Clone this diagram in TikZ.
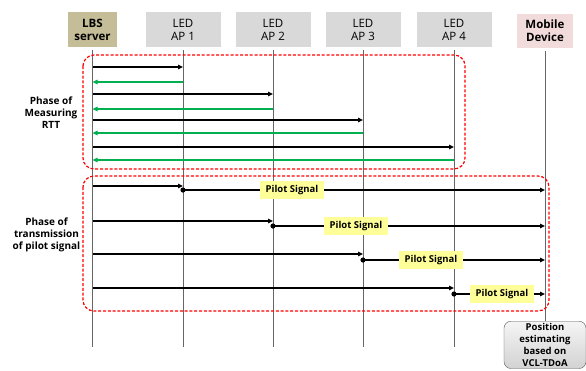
\documentclass[tikz,border=0pt]{standalone}
\usepackage{fontspec}
\setmainfont{Open Sans}
\usetikzlibrary{arrows.meta}
\definecolor{lbsfill}{HTML}{C4BD97}
\definecolor{apfill}{HTML}{D9D9D9}
\definecolor{mobfill}{HTML}{F2DCDB}
\definecolor{pilotfill}{HTML}{FFFF99}
\definecolor{rttgreen}{RGB}{0,176,80}
\definecolor{phasered}{RGB}{255,0,0}
\begin{document}
\begin{tikzpicture}[x=1pt,y=-1pt,
  hdr/.style={inner sep=0pt, minimum height=35pt, align=center, font=\fontsize{11.5}{13}\selectfont},
  life/.style={draw=gray!80!black, line width=0.7pt},
  msg/.style={draw=black, line width=1.3pt, -{Triangle[length=5pt,width=4.5pt]}},
  ack/.style={draw=rttgreen, line width=1.3pt, -{Triangle[length=5pt,width=4.5pt]}},
  phase/.style={draw=phasered, line width=1.2pt, dash pattern=on 3pt off 1.8pt, rounded corners=11pt},
  phaselabel/.style={align=center, font=\bfseries\fontsize{10}{12}\selectfont},
  pilot/.style={fill=pilotfill, inner xsep=6pt, minimum height=18pt, font=\bfseries\fontsize{9.5}{10}\selectfont},
  dotend/.style={fill=black},
  posbox/.style={draw=gray!70!black, rounded corners=7pt, top color=gray!8, bottom color=gray!35, minimum width=82pt, align=center, inner sep=2pt, font=\bfseries\fontsize{9.5}{12}\selectfont}
]
\useasboundingbox (0,0) rectangle (586,370);
\clip (0,0) rectangle (586,370);

% headers
\node[hdr, fill=lbsfill, minimum width=49pt, font=\bfseries\fontsize{11.5}{13}\selectfont] (lbs) at (92.5,29.5) {LBS\\server};
\node[hdr, fill=apfill, minimum width=75pt] (ap1) at (183,29.5) {LED\\AP 1};
\node[hdr, fill=apfill, minimum width=75pt] (ap2) at (273,29.5) {LED\\AP 2};
\node[hdr, fill=apfill, minimum width=75pt] (ap3) at (363,29.5) {LED\\AP 3};
\node[hdr, fill=apfill, minimum width=75pt] (ap4) at (454,29.5) {LED\\AP 4};
\node[hdr, fill=mobfill, minimum width=56pt, minimum height=34pt, font=\bfseries\fontsize{11.5}{13}\selectfont] (mob) at (545,31) {Mobile\\Device};

% position box
\node[posbox, anchor=north] (pos) at (545,321) {Position\\estimating\\based on\\VCL-TDoA};

% lifelines
\coordinate (lbsE) at (92.5,347);
\coordinate (ap1E) at (183,347);
\coordinate (ap2E) at (273,347);
\coordinate (ap3E) at (363,347);
\coordinate (ap4E) at (454,347);
\draw[life] ([yshift=-3pt]lbs.south) -- (lbsE);
\draw[life] ([yshift=-3pt]ap1.south) -- (ap1E);
\draw[life] ([yshift=-3pt]ap2.south) -- (ap2E);
\draw[life] ([yshift=-3pt]ap3.south) -- (ap3E);
\draw[life] ([yshift=-3pt]ap4.south) -- (ap4E);
\draw[life] ([yshift=-3pt]mob.south) -- (pos.north);

% phase boxes
\draw[phase] (83,55) rectangle (465,169);
\draw[phase] (83,176) rectangle (549,311);
\node[phaselabel] (ph1) at (51,113) {Phase of\\Measuring\\RTT};
\node[phaselabel] (ph2) at (46.5,235) {Phase of\\transmission\\of pilot signal};

% RTT measurement
\draw[msg] (lbs |- 0,67) -- (ap1 |- 0,67);
\draw[ack] (ap1 |- 0,82) -- (lbs |- 0,82);
\draw[msg] (lbs |- 0,94) -- (ap2 |- 0,94);
\draw[ack] (ap2 |- 0,109) -- (lbs |- 0,109);
\draw[msg] (lbs |- 0,120) -- (ap3 |- 0,120);
\draw[ack] (ap3 |- 0,133) -- (lbs |- 0,133);
\draw[msg] (lbs |- 0,147) -- (ap4 |- 0,147);
\draw[ack] (ap4 |- 0,160) -- (lbs |- 0,160);

% pilot signal transmission
\draw[msg] (lbs |- 0,186) -- (ap1 |- 0,186);
\draw[msg] (ap1 |- 0,190) -- (mob |- 0,190);
\fill[dotend] (ap1 |- 0,190) circle (2.6pt);
\node[pilot] (p1) at (292,190) {Pilot Signal};

\draw[msg] (lbs |- 0,221) -- (ap2 |- 0,221);
\draw[msg] (ap2 |- 0,226) -- (mob |- 0,226);
\fill[dotend] (ap2 |- 0,226) circle (2.6pt);
\node[pilot] (p2) at (356,226) {Pilot Signal};

\draw[msg] (lbs |- 0,254) -- (ap3 |- 0,254);
\draw[msg] (ap3 |- 0,260) -- (mob |- 0,260);
\fill[dotend] (ap3 |- 0,260) circle (2.6pt);
\node[pilot] (p3) at (431,260) {Pilot Signal};

\draw[msg] (lbs |- 0,288) -- (ap4 |- 0,288);
\draw[msg] (ap4 |- 0,294) -- (mob |- 0,294);
\fill[dotend] (ap4 |- 0,294) circle (2.6pt);
\node[pilot] (p4) at (502,294) {Pilot Signal};
\end{tikzpicture}
\end{document}
